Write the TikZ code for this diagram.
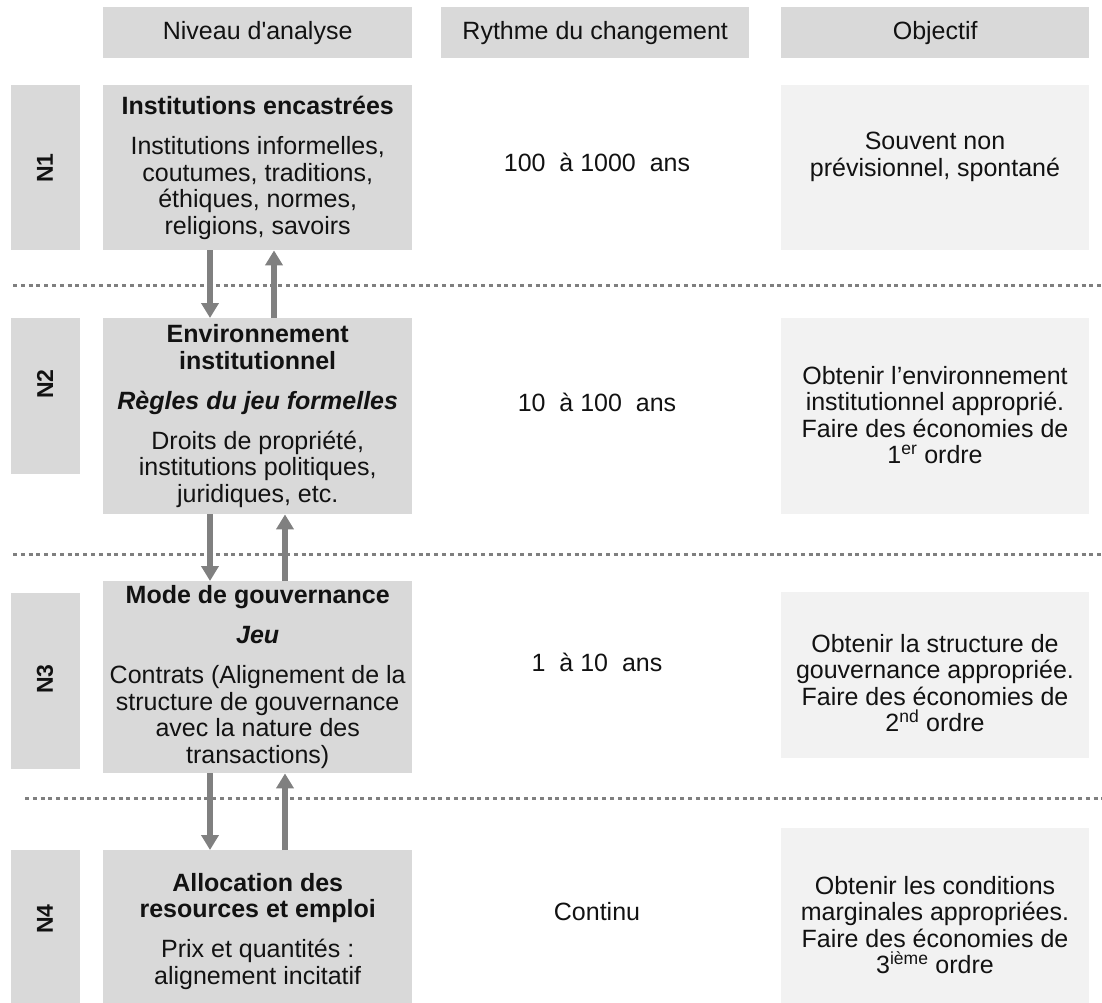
\documentclass[tikz,border=0pt]{standalone}
\usepackage{fontspec}
\setmainfont{Liberation Sans}
\usetikzlibrary{arrows.meta}

\definecolor{boxgray}{HTML}{D9D9D9}
\definecolor{softgray}{HTML}{F2F2F2}
\definecolor{arrowgray}{HTML}{808080}
\definecolor{rulegray}{HTML}{7F7F7F}
\definecolor{ink}{HTML}{121212}

\begin{document}
\begin{tikzpicture}[x=1pt,y=-1pt,
  txt/.style={font=\fontsize{25}{26.5}\selectfont, align=center,
    inner sep=0pt, text=ink},
  cell/.style 2 args={anchor=north west, inner sep=0pt, draw=none,
    minimum width=#1, minimum height=#2},
  head/.style={fill=boxgray, txt},
  level/.style={fill=boxgray, txt},
  tag/.style={fill=boxgray},
  goal/.style={fill=softgray},
  tagtext/.style={font=\fontsize{23}{24}\selectfont\bfseries, rotate=90,
    inner sep=0pt, text=ink},
  flow/.style={draw=arrowgray, line width=5.5pt,
    -{Triangle[width=17pt,length=15pt]}},
  divider/.style={draw=rulegray, line width=3pt,
    dash pattern=on 4pt off 3.8pt}]

\useasboundingbox (0,0) rectangle (1102,1002);
\clip (0,0) rectangle (1102,1002);

% column headers
\node[head, cell={309pt}{51pt}] (h1) at (103,7) {Niveau d\textquotesingle analyse};
\node[head, cell={308pt}{51pt}] (h2) at (441,7) {Rythme du changement};
\node[head, cell={308pt}{51pt}] (h3) at (781,7) {Objectif};

% level tags on the left
\node[tag, cell={69pt}{165pt}] (t1) at (11,85) {};
\node[tag, cell={69pt}{156pt}] (t2) at (11,318) {};
\node[tag, cell={69pt}{176pt}] (t3) at (11,593) {};
\node[tag, cell={69pt}{162pt}] (t4) at (11,850) {};
\node[tagtext] (t1x) at (45,168) {N1};
\node[tagtext] (t2x) at (45,384) {N2};
\node[tagtext] (t3x) at (45,679) {N3};
\node[tagtext] (t4x) at (45,919) {N4};

% levels of analysis
\node[level, cell={309pt}{165pt}] (m1) at (103,85)
  {\textbf{Institutions encastrées}\\[13.5pt]
   Institutions informelles,\\ coutumes, traditions,\\
   éthiques, normes,\\ religions, savoirs};
\node[level, cell={309pt}{196pt}] (m2) at (103,318)
  {\textbf{Environnement}\\ \textbf{institutionnel}\\[13.5pt]
   \textbf{\textit{Règles du jeu formelles}}\\[13.5pt]
   Droits de propriété,\\ institutions politiques,\\ juridiques, etc.};
\node[level, cell={309pt}{192pt}] (m3) at (103,581)
  {\textbf{Mode de gouvernance}\\[13.5pt]
   \textbf{\textit{Jeu}}\\[13.5pt]
   Contrats (Alignement de la\\ structure de gouvernance\\
   avec la nature des\\ transactions)};
\node[level, cell={309pt}{162pt}] (m4) at (103,850)
  {\textbf{Allocation des}\\ \textbf{resources et emploi}\\[13.5pt]
   Prix et quantités :\\ alignement incitatif};

% pace of change
\node[txt] (r1) at (597,162) {100\ \ à 1000\ \ ans};
\node[txt] (r2) at (597,402) {10\ \ à 100\ \ ans};
\node[txt] (r3) at (597,662) {1\ \ à 10\ \ ans};
\node[txt] (r4) at (597,912) {Continu};

% objectives
\node[goal, cell={308pt}{165pt}] (g1) at (781,85) {};
\node[goal, cell={308pt}{196pt}] (g2) at (781,318) {};
\node[goal, cell={308pt}{166pt}] (g3) at (781,592) {};
\node[goal, cell={308pt}{184pt}] (g4) at (781,828) {};
\node[txt] (g1x) at (935,157) {Souvent non\\ prévisionnel, spontané};
\node[txt] (g2x) at (935,415) {Obtenir l’environnement\\ institutionnel approprié.\\
  Faire des économies de\\ 1\textsuperscript{er} ordre};
\node[txt] (g3x) at (935,683) {Obtenir la structure de\\ gouvernance appropriée.\\
  Faire des économies de\\ 2\textsuperscript{nd} ordre};
\node[txt] (g4x) at (935,925) {Obtenir les conditions\\ marginales appropriées.\\
  Faire des économies de\\ 3\textsuperscript{ième} ordre};

% dotted separators between levels
\coordinate (s1a) at (13,285);  \coordinate (s1b) at (1102,285);
\coordinate (s2a) at (13,554);  \coordinate (s2b) at (1102,554);
\coordinate (s3a) at (25,798);  \coordinate (s3b) at (1102,798);
\draw[divider] (s1a) -- (s1b);
\draw[divider] (s2a) -- (s2b);
\draw[divider] (s3a) -- (s3b);

% influences between adjacent levels
\draw[flow] (m1.south -| 210,0) -- (m2.north -| 210,0);
\draw[flow] (m2.north -| 274,0) -- (m1.south -| 274,0);
\draw[flow] (m2.south -| 210,0) -- (m3.north -| 210,0);
\draw[flow] (m3.north -| 285,0) -- (m2.south -| 285,0);
\draw[flow] (m3.south -| 210,0) -- (m4.north -| 210,0);
\draw[flow] (m4.north -| 285,0) -- (m3.south -| 285,0);

\end{tikzpicture}
\end{document}
